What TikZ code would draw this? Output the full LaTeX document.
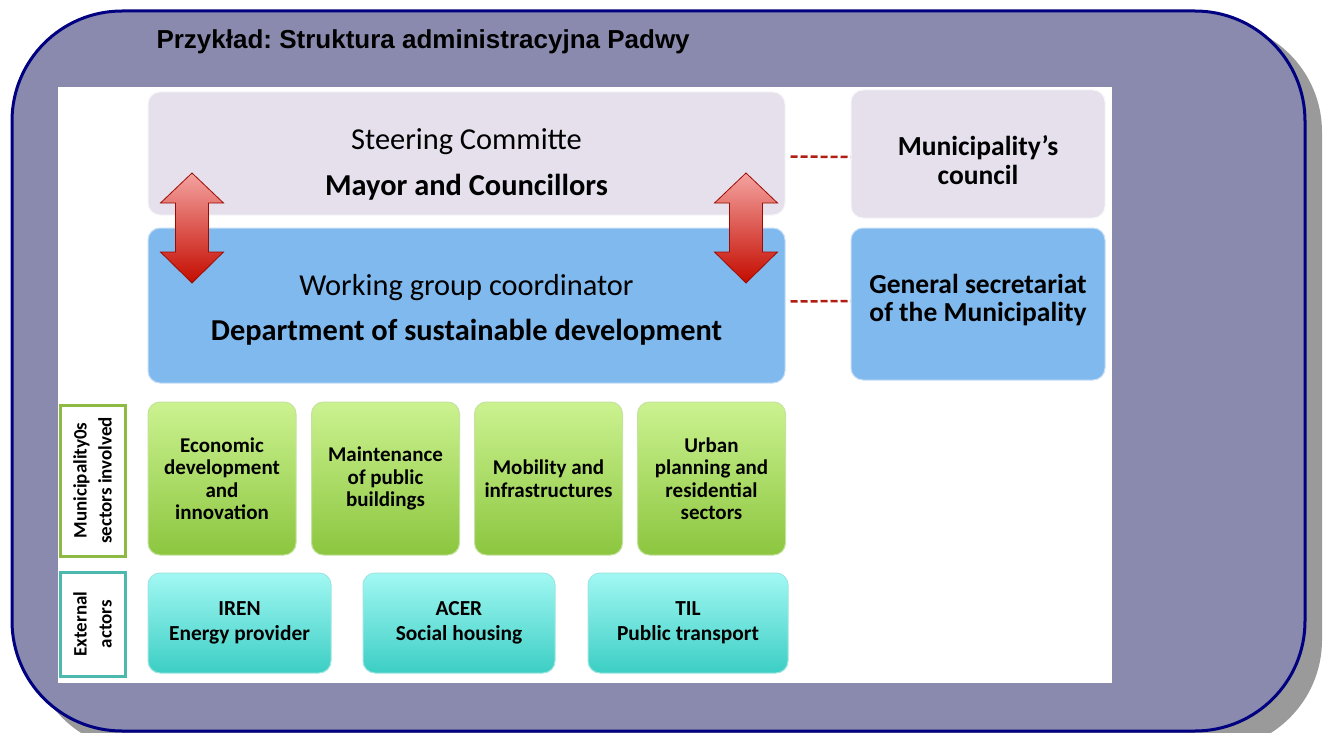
\documentclass[tikz,border=0pt]{standalone}
\usepackage{fontspec}
\setmainfont{Carlito}
\newfontfamily\titlefont{Liberation Sans}
\usepackage{tikz}
\usepackage{xcolor}
\usetikzlibrary{positioning}
\frenchspacing

\definecolor{framefill}{HTML}{8A8AAE}
\definecolor{framenavy}{HTML}{000080}
\definecolor{shadowgray}{HTML}{9A9A9A}
\definecolor{lavfill}{HTML}{E5E0EC}
\definecolor{skyfill}{HTML}{80B9EE}
\definecolor{greentop}{HTML}{CBF290}
\definecolor{greenbot}{HTML}{8CC63F}
\definecolor{cyantop}{HTML}{A2F8F3}
\definecolor{cyanbot}{HTML}{3CCEC4}
\definecolor{arrowtop}{HTML}{F4A3A0}
\definecolor{arrowbot}{HTML}{C40C00}
\definecolor{linkred}{HTML}{B01E12}
\definecolor{sectorgreen}{HTML}{8DBA42}
\definecolor{actorteal}{HTML}{4CB8B0}

\tikzset{
  box/.style={rounded corners=12pt, line width=1pt, align=center, inner sep=0pt},
  lavbox/.style={box, fill=lavfill, draw=white!70!lavfill},
  skybox/.style={box, fill=skyfill, draw=white!55!skyfill},
  sectorbox/.style={box, top color=greentop, bottom color=greenbot, draw=white!50!greenbot,
    minimum width=148pt, minimum height=153pt, font=\bfseries\fontsize{21}{22.5}\selectfont},
  actorbox/.style={box, top color=cyantop, bottom color=cyanbot, draw=white!50!cyanbot,
    minimum height=100pt, font=\bfseries\fontsize{21.4}{25}\selectfont},
  sidelabel/.style={fill=white, line width=3pt, rotate=90, align=center, inner sep=0pt,
    minimum height=65pt, font=\bfseries\fontsize{19}{25}\selectfont},
  link/.style={draw=linkred, line width=2.5pt, dash pattern=on 7pt off 3pt}
}

\begin{document}
\begin{tikzpicture}[x=1pt, y=-1pt]

        \clip (0,0) rectangle (1326,733);

        % frame with shadow
        \fill[shadowgray, rounded corners=110pt] (30,22) rectangle (1322,750);
        \draw[framenavy, fill=framefill, line width=3pt, rounded corners=110pt] (12,11) rectangle (1305,731);
        \fill[white] (58,87) rectangle (1112,683);

        \node[anchor=west, font=\titlefont\bfseries\fontsize{26}{30}\selectfont] at (153,42) (title) {Przykład: Struktura administracyjna Padwy};

        % main boxes
        \node[lavbox, minimum width=637pt, minimum height=123pt, font=\fontsize{30.4}{46}\selectfont] at (466.5,153.5) (steering)
            {\rule{0pt}{43pt}Steering Committe\\ \textbf{Mayor and Councillors}};
        \node[skybox, minimum width=637pt, minimum height=155pt, font=\fontsize{30.4}{45}\selectfont] at (466.5,305.5) (working)
            {\rule{0pt}{29pt}Working group coordinator\\ \textbf{Department of sustainable development}};
        \node[lavbox, minimum width=254pt, minimum height=128pt, font=\bfseries\fontsize{27.5}{29}\selectfont] at (978,154) (council)
            {\rule{0pt}{33pt}Municipality’s\\ council};
        \node[skybox, minimum width=254pt, minimum height=152pt, font=\bfseries\fontsize{27.5}{28}\selectfont] at (978,304) (secretariat)
            {General secretariat\\ of the Municipality\rule[-12pt]{0pt}{1pt}};

        \draw[link] ([shift={(5pt,-3pt)}]steering.east) -- ([yshift=-3pt]council.west);
        \draw[link] ([shift={(5pt,4pt)}]working.east) -- ([yshift=3pt]secretariat.west);

        % red double arrows
        \foreach \c in {192,746}
            \draw[arrowbot!80!black, line width=0.8pt, top color=arrowtop, bottom color=arrowbot]
                (\c,173) -- (\c+31.5,203) -- (\c+16.5,203) -- (\c+16.5,252) -- (\c+31.5,252) -- (\c,283)
                -- (\c-31.5,252) -- (\c-16.5,252) -- (\c-16.5,203) -- (\c-31.5,203) -- cycle;

        % sectors
        \node[sidelabel, draw=sectorgreen, minimum width=151pt] at (92.5,480.5) (sectorlabel) {Municipality0s\\ sectors involved};
        \node[sectorbox] at (222,478.5) (economic) {Economic\\ development\\ and\\ innovation};
        \node[sectorbox] at (385.5,478.5) (maintenance) {Maintenance\\ of public\\ buildings};
        \node[sectorbox] at (548.5,478.5) (mobility) {Mobility and\\ infrastructures};
        \node[sectorbox] at (711.5,478.5) (urban) {Urban\\ planning and\\ residential\\ sectors};

        % external actors
        \node[sidelabel, draw=actorteal, minimum width=104pt] at (92.5,624) (actorlabel) {External\\ actors};
        \node[actorbox, minimum width=183pt] at (239.5,623) (iren) {IREN\\ Energy provider};
        \node[actorbox, minimum width=192pt] at (459,623) (acer) {ACER\\ Social housing};
        \node[actorbox, minimum width=200pt] at (688,623) (til) {TIL\\ Public transport};

    \end{tikzpicture}
\end{document}
